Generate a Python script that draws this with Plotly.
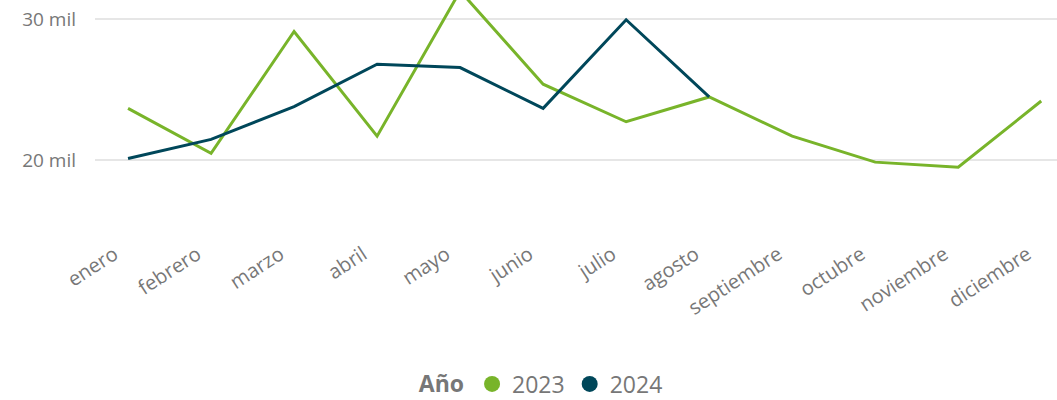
import plotly.graph_objects as go

meses = ["enero", "febrero", "marzo", "abril", "mayo", "junio", "julio",
         "agosto", "septiembre", "octubre", "noviembre", "diciembre"]
valores_2023 = [23670, 20480, 29120, 21700, 31990, 25380, 22720,
                24480, 21700, 19860, 19500, 24190]
valores_2024 = [20120, 21470, 23800, 26800, 26560, 23670, 29950, 24480]
y_ticks = [20000, 30000]
y_tick_labels = ["20 mil", "30 mil"]
series = ["2023", "2024"]

VERDE = "#78B42A"
AZUL = "#00475A"
GRIS = "#777777"
FONT = "Open Sans, Noto Sans, sans-serif"

fig = go.Figure()
fig.add_trace(go.Scatter(x=meses, y=valores_2023, name=series[0], mode="lines",
                         line=dict(color=VERDE, width=3), showlegend=False,
                         legendgroup=series[0]))
fig.add_trace(go.Scatter(x=meses[:len(valores_2024)], y=valores_2024, name=series[1],
                         mode="lines", line=dict(color=AZUL, width=3),
                         showlegend=False, legendgroup=series[1]))
# legend entries as circles
for nombre, color in zip(series, [VERDE, AZUL]):
    fig.add_trace(go.Scatter(x=[None], y=[None], name=nombre, mode="markers",
                             marker=dict(color=color, size=20, symbol="circle"),
                             legendgroup=nombre, showlegend=True))

fig.update_layout(
    width=1057, height=400,
    margin=dict(l=95, r=0, t=0, b=170, pad=0),
    paper_bgcolor="white", plot_bgcolor="white",
    font=dict(family=FONT, color=GRIS, size=15),
    showlegend=True,
    legend=dict(orientation="h", x=0.465, xanchor="center",
                yref="container", y=0.04, yanchor="middle",
                title=dict(text="<b>Año</b>", font=dict(size=23, color=GRIS)),
                font=dict(size=23, color=GRIS),
                itemsizing="trace", itemwidth=30,
                tracegroupgap=0,
                traceorder="normal"),
    xaxis=dict(type="category", range=[-0.398, 11.19], showgrid=False,
               zeroline=False, showline=False, tickangle=-33,
               automargin=False, ticklabelshift=-14, ticklabelstandoff=8,
               tickfont=dict(size=20, color=GRIS), ticks=""),
    yaxis=dict(range=[15050, 31350], tickvals=y_ticks, ticktext=y_tick_labels,
               showgrid=True, gridcolor="#E6E6E6", gridwidth=1.5,
               zeroline=False, showline=False, ticks="",
               automargin=False,
               ticklabelstandoff=18,
               tickfont=dict(size=19, color=GRIS)),
)

fig.write_html("out.html", config={"displayModeBar": False},
               post_script="document.body.style.margin='0';document.body.style.padding='0';")
